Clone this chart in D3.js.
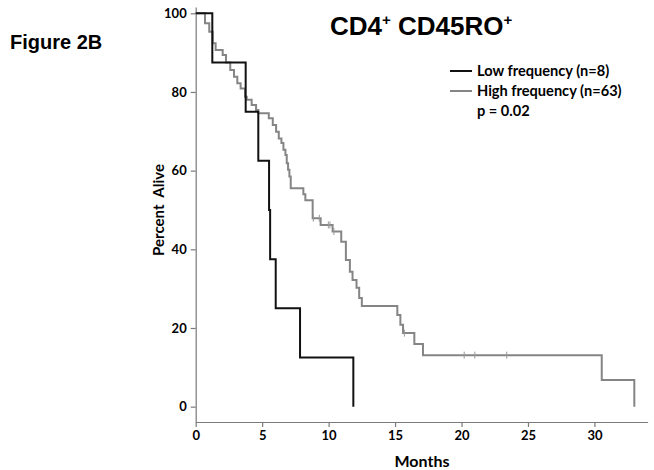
<!DOCTYPE html>
<html><head><meta charset="utf-8">
<script src="https://cdn.jsdelivr.net/npm/d3@7"></script>
<style>
body{margin:0;background:#fff;}
svg{display:block;}
</style></head>
<body>
<svg id="chart" width="654" height="470"></svg>
<script>
// Data
const lowTimes = [0, 1.25, 3.76, 4.71, 5.52, 5.6, 6.02, 7.85, 11.86];
const lowSurv  = [100, 87.5, 75, 62.5, 50, 37.5, 25, 12.5, 0];

const highTimes = [0, 0.70, 1.02, 1.28, 1.5, 2.03, 2.28, 2.6, 2.88, 3.13, 3.38, 3.71, 3.84, 4.21, 4.54, 4.71,
  5.5, 5.8, 6.05, 6.25, 6.45, 6.6, 6.75, 6.85, 6.95, 7.05, 7.15, 8.1, 8.25, 8.8, 9.4, 10.3, 10.95,
  11.3, 11.6, 11.8, 12.1, 12.3, 12.5, 15.17, 15.4, 15.6, 16.45, 17.1, 30.55, 33.0];
const highSurv = [100, 97.5, 95.3, 92.4, 90.7, 89.4, 87.5, 85.6, 83.9, 82.2, 80.9, 78.8, 78.0, 76.7, 75.4, 74.6,
  73.3, 71.6, 69.9, 68.2, 67.0, 65.3, 64.0, 61.9, 60.2, 58.5, 55.5, 54.0, 52.5, 47.9, 46.2, 44.5, 41.9,
  37.3, 34.3, 32.2, 30.2, 27.6, 25.6, 23.3, 20.8, 18.7, 15.9, 13.1, 6.8, 0];
const highCensor = [8.85, 9.3, 9.98, 10.1, 10.4, 15.7, 20.2, 21.0, 23.4];

const xTicks = [0, 5, 10, 15, 20, 25, 30];
const yTicks = [0, 20, 40, 60, 80, 100];
const seriesNames = ["Low frequency (n=8)", "High frequency (n=63)"];
const pText = "p = 0.02";

const svg = d3.select("#chart");
const x = d3.scaleLinear().domain([0, 34]).range([195.7, 647.6]);
const y = d3.scaleLinear().domain([-3.9, 101.6]).range([422, 7]);

const axisColor = "#7a7a7a";
const font = "Lato, 'Open Sans', sans-serif";

// axes
const gx = svg.append("g").attr("transform", "translate(0,422)")
  .call(d3.axisBottom(x).tickValues(xTicks).tickSize(5).tickSizeOuter(0).tickPadding(4));
const gy = svg.append("g").attr("transform", "translate(195.7,0)")
  .call(d3.axisLeft(y).tickValues(yTicks).tickSize(5).tickSizeOuter(0).tickPadding(4));
[gx, gy].forEach(g => {
  g.select(".domain").attr("stroke", axisColor).attr("stroke-width", 1.2);
  g.selectAll(".tick line").attr("stroke", axisColor).attr("stroke-width", 1.2);
  g.selectAll(".tick text").attr("fill", "#000").style("font-family", font)
    .style("font-weight", "bold").style("font-size", "13px");
});

const line = d3.line().x(d => x(d[0])).y(d => y(d[1])).curve(d3.curveStepAfter);
const lowPts = lowTimes.map((t, i) => [t, lowSurv[i]]);
const highPts = highTimes.map((t, i) => [t, highSurv[i]]);

svg.append("path").datum(highPts).attr("d", line)
  .attr("fill", "none").attr("stroke", "#858585").attr("stroke-width", 2);
svg.append("path").datum(lowPts).attr("d", line)
  .attr("fill", "none").attr("stroke", "#111").attr("stroke-width", 2);

function survAt(t) {
  let s = highSurv[0];
  for (let i = 0; i < highTimes.length; i++) if (highTimes[i] <= t) s = highSurv[i];
  return s;
}
svg.selectAll(".censor").data(highCensor).enter().append("line")
  .attr("x1", d => x(d)).attr("x2", d => x(d))
  .attr("y1", d => y(survAt(d)) - 3.5).attr("y2", d => y(survAt(d)) + 3.5)
  .attr("stroke", "#999").attr("stroke-width", 1);

// titles
svg.append("text").attr("x", 10).attr("y", 49).text("Figure 2B")
  .style("font-family", "Arial, 'Liberation Sans', sans-serif").style("font-weight", "bold").style("font-size", "20px");

const title = svg.append("text").attr("x", 330).attr("y", 35)
  .style("font-family", "Arial, 'Liberation Sans', sans-serif").style("font-weight", "bold").style("font-size", "26px");
title.append("tspan").text("CD4");
title.append("tspan").text("+").attr("dy", -10).style("font-size", "15px");
title.append("tspan").text(" CD45RO").attr("dy", 10);
title.append("tspan").text("+").attr("dy", -10).style("font-size", "15px");

// legend
const legColors = ["#111", "#858585"];
seriesNames.forEach((n, i) => {
  const ly = 71 + i * 20;
  svg.append("line").attr("x1", 450).attr("x2", 472).attr("y1", ly).attr("y2", ly)
    .attr("stroke", legColors[i]).attr("stroke-width", 2);
  svg.append("text").attr("x", 477).attr("y", ly + 5).text(n)
    .style("font-family", font).style("font-weight", "bold").style("font-size", "14.6px");
});
svg.append("text").attr("x", 477).attr("y", 116).text(pText)
  .style("font-family", font).style("font-weight", "bold").style("font-size", "14.6px");

// axis labels
svg.append("text").attr("transform", "translate(164,210) rotate(-90)")
  .attr("text-anchor", "middle").text("Percent\u00a0 Alive")
  .style("font-family", font).style("font-weight", "bold").style("font-size", "15px");
svg.append("text").attr("x", 422).attr("y", 467).attr("text-anchor", "middle").text("Months")
  .style("font-family", font).style("font-weight", "bold").style("font-size", "16px");
</script>
</body></html>
